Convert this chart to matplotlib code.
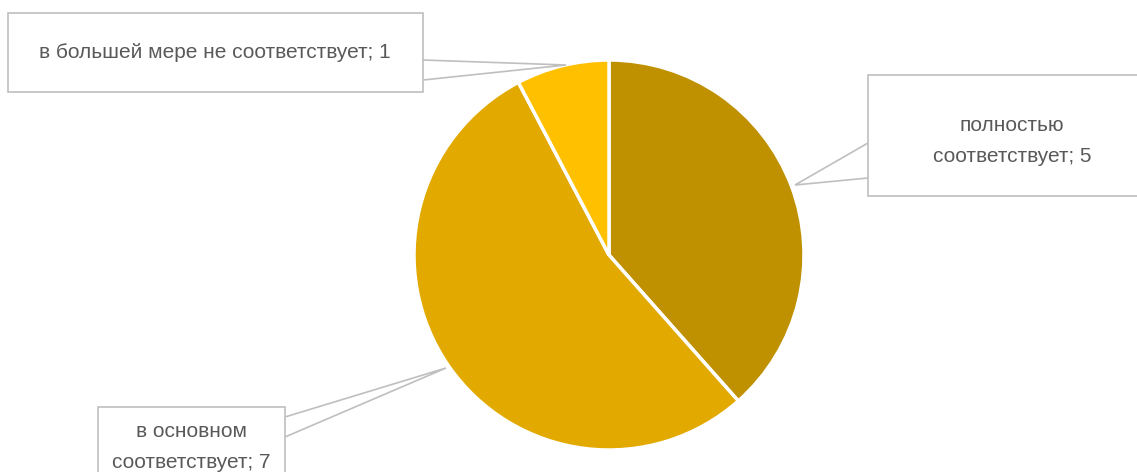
import matplotlib.pyplot as plt
from matplotlib.patches import Rectangle, Polygon
from matplotlib import font_manager

labels = ["полностью\nсоответствует; 5", "в основном\nсоответствует; 7",
          "в большей мере не соответствует; 1"]
values = [5, 7, 1]
colors = ["#BF9000", "#E2AA00", "#FFC000"]

W, H = 1137, 472

names = {f.name for f in font_manager.fontManager.ttflist}
family = ["Liberation Sans Narrow", "DejaVu Sans"] if "Liberation Sans Narrow" in names else ["Liberation Sans", "DejaVu Sans"]

fig = plt.figure(figsize=(W / 100, H / 100), dpi=100)
ax = fig.add_axes([0, 0, 1, 1])

cx, cy, r = 609, H - 255, 195
ax.pie(values, colors=colors, startangle=90, counterclock=False,
       center=(cx, cy), radius=r, frame=True,
       wedgeprops=dict(edgecolor="white", linewidth=2.5))

ax.set_xlim(0, W)
ax.set_ylim(0, H)
ax.set_aspect("equal")
ax.axis("off")

edge = "#BFBFBF"
txt = "#595959"


def callout(box, tip, attach, text, tx, ty):
    x0, y0, x1, y1 = box
    ax.add_patch(Rectangle((x0, H - y1), x1 - x0, y1 - y0, facecolor="white",
                           edgecolor=edge, linewidth=1.2, zorder=3))
    (ax_, ay1), (bx, by1) = attach
    ax.add_patch(Polygon([(ax_, H - ay1), (tip[0], H - tip[1]), (bx, H - by1)],
                         closed=False, fill=False, edgecolor=edge, linewidth=1.2, zorder=3))
    ax.text(tx, H - ty, text, ha="center", va="center", fontsize=15,
            color=txt, family=family, linespacing=1.75, zorder=4)


callout((8, 13, 423, 92), (566, 65), ((423, 60), (423, 80)), labels[2], 215, 52)
callout((868, 75, 1145, 196), (795, 185), ((868, 143), (868, 178)), labels[0], 1012, 141)
callout((98, 407, 285, 480), (446, 368), ((285, 417), (285, 437)), labels[1], 191, 447)

fig.savefig("out.png", dpi=100)
